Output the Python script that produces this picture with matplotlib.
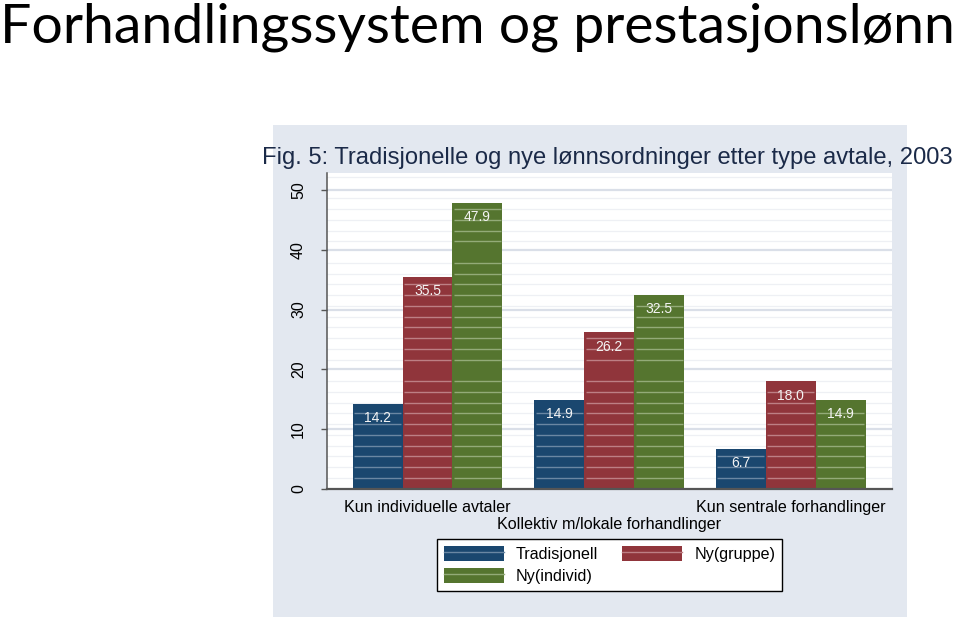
import numpy as np
import matplotlib.pyplot as plt
from matplotlib.patches import Rectangle, Patch
from matplotlib.lines import Line2D
from matplotlib.legend_handler import HandlerTuple

# data
categories = ['Kun individuelle avtaler',
              'Kollektiv m/lokale forhandlinger',
              'Kun sentrale forhandlinger']
series_names = ['Tradisjonell', 'Ny(gruppe)', 'Ny(individ)']
tradisjonell = [14.2, 14.9, 6.7]
ny_gruppe = [35.5, 26.2, 18.0]
ny_individ = [47.9, 32.5, 14.9]
y_ticks = [0, 10, 20, 30, 40, 50]

slide_title = 'Forhandlingssystem og prestasjonslønn'
chart_title = 'Fig. 5: Tradisjonelle og nye lønnsordninger etter type avtale, 2003'

colors = ['#1a476f', '#90353b', '#55752f']
stripe = ['#6a87a3', '#bd7f84', '#93ab78']
FONT = ['Liberation Sans', 'DejaVu Sans']

fig = plt.figure(figsize=(9.59, 6.21), dpi=100)

# slide title
fig.text(0.0, 1 - 43 / 621, slide_title, family=['Lato', 'DejaVu Sans'],
         fontsize=39.9, color='black', ha='left', va='baseline')

# grey-blue chart panel
fig.add_artist(Rectangle((0.2844, 0.0064), 0.6611, 0.7923, transform=fig.transFigure,
                         facecolor='#e3e8f0', edgecolor='none', zorder=0))

fig.text(262 / 959, 1 - 164.3 / 621, chart_title, family=FONT, fontsize=17.1,
         color='#1b2a48', ha='left', va='baseline')

ax = fig.add_axes([0.3413, 0.2130, 0.5885, 0.5084])
ax.set_facecolor('white')

ymax = 52.85
ax.set_ylim(0, ymax)
ax.set_xlim(-2.008, 9.30)

# faint background stripes and major grid
minor = [v for v in np.arange(1.8, ymax, 1.8) if abs(v - round(v / 10) * 10) > 0.6]
for v in minor:
    ax.axhline(v, color='#eef0f4', lw=0.9, zorder=0)
for v in y_ticks[1:]:
    ax.axhline(v, color='#dadfe8', lw=1.6, zorder=0.5)

group_x = np.arange(len(categories)) * 3.64
all_series = [tradisjonell, ny_gruppe, ny_individ]
for j, vals in enumerate(all_series):
    xs = group_x + (j - 1)
    ax.bar(xs, vals, width=1.0, color=colors[j], zorder=2)
    for x, v in zip(xs, vals):
        ys = [m for m in minor if m < v - 0.6]
        ax.hlines(ys, x - 0.47, x + 0.47, color=stripe[j], lw=1, zorder=3)
        ax.annotate(f'{v:.1f}', (x, v), xytext=(0, -10.4), textcoords='offset points',
                    ha='center', va='center', color='#f4f4f4', family=FONT,
                    fontsize=10, zorder=4)

for s in ['top', 'right']:
    ax.spines[s].set_visible(False)
ax.spines['left'].set_color('#555555')
ax.spines['left'].set_linewidth(1.1)
ax.spines['bottom'].set_color('#555555')
ax.spines['bottom'].set_linewidth(1.6)
ax.spines['left'].set_zorder(5)
ax.spines['bottom'].set_zorder(5)

ax.set_yticks(y_ticks)
ax.set_yticklabels([str(t) for t in y_ticks], rotation=90, va='center',
                   family=FONT, fontsize=11.5)
ax.tick_params(axis='y', length=4.3, width=1, color='#555555', pad=11)

ax.set_xticks(group_x)
ax.set_xticklabels(categories, family=FONT, fontsize=11.6)
ax.tick_params(axis='x', length=0, pad=8)
ax.xaxis.get_major_ticks()[1].set_pad(20)

# legend filled column-wise: put Ny(gruppe) in the second column
order = [0, 2, 1]
handles = [(Patch(facecolor=colors[i], edgecolor='none'),
            Line2D([], [], color=stripe[i], lw=1)) for i in order]
labels = [series_names[i] for i in order]
leg = fig.legend(handles, labels, loc='upper left',
                 bbox_to_anchor=(437 / 959, 1 - 539 / 621), ncol=2,
                 handler_map={tuple: HandlerTuple(ndivide=1)},
                 prop={'family': FONT, 'size': 11.6},
                 frameon=True, fancybox=False, shadow=False, framealpha=1,
                 handlelength=3.73, handleheight=1.04, handletextpad=0.75,
                 columnspacing=1.47, borderpad=0.43, labelspacing=0.37,
                 borderaxespad=0)
leg.get_frame().set_edgecolor('black')
leg.get_frame().set_linewidth(1)
leg.get_frame().set_facecolor('white')

fig.savefig('out.png', dpi=100)
